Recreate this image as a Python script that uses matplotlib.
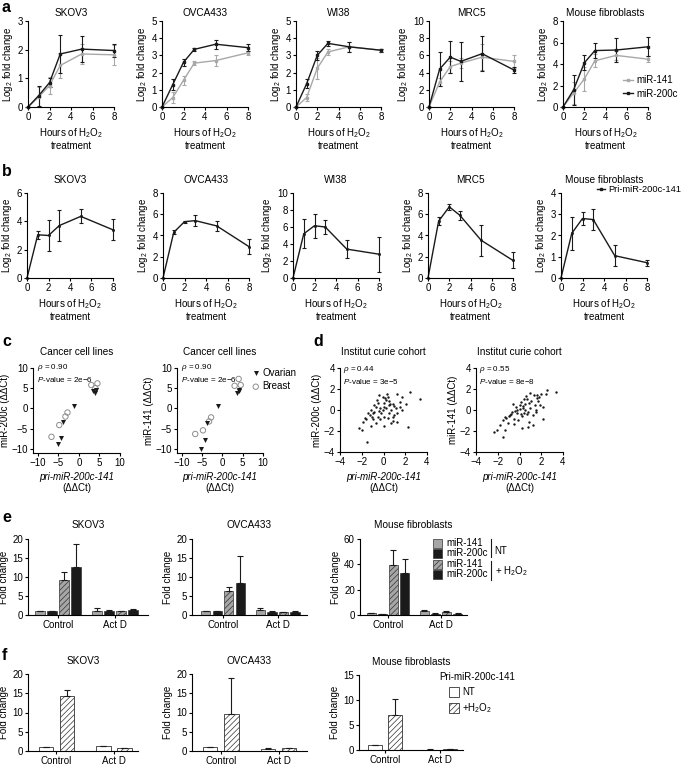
import matplotlib
matplotlib.use('Agg')
import matplotlib.pyplot as plt
from matplotlib.patches import Rectangle
from matplotlib.lines import Line2D

plt.rcParams['font.family'] = ['Liberation Sans', 'DejaVu Sans']
plt.rcParams['font.size'] = 7
plt.rcParams['mathtext.fontset'] = 'custom'
plt.rcParams['mathtext.rm'] = 'Liberation Sans'
plt.rcParams['mathtext.it'] = 'Liberation Sans:italic'
plt.rcParams['mathtext.bf'] = 'Liberation Sans:bold'
plt.rcParams['hatch.linewidth'] = 0.5
plt.rcParams['axes.linewidth'] = 0.8

# ---------------- data ----------------
hours = [0, 1, 2, 3, 5, 8]
cell_titles = ['SKOV3', 'OVCA433', 'WI38', 'MRC5', 'Mouse fibroblasts']

# panel a: mature miRNAs (log2 fold change), rows = cell lines
a_mir141 = [[0, 0.35, 0.75, 1.45, 1.85, 1.82],
            [0, 0.55, 1.55, 2.55, 2.70, 3.15],
            [0, 0.55, 2.25, 3.20, 3.50, 3.30],
            [0, 2.90, 4.70, 5.10, 5.80, 5.30],
            [0, 1.30, 2.60, 4.30, 4.80, 4.45]]
a_mir141_err = [[0, 0.35, 0.30, 0.45, 0.35, 0.35],
                [0, 0.30, 0.25, 0.10, 0.30, 0.10],
                [0, 0.20, 0.60, 0.20, 0.30, 0.10],
                [0, 0.50, 0.70, 0.60, 1.50, 0.80],
                [0, 1.00, 1.10, 0.60, 0.40, 0.30]]
a_mir200c = [[0, 0.40, 0.85, 1.85, 2.02, 1.97],
             [0, 1.30, 2.60, 3.35, 3.65, 3.45],
             [0, 1.35, 3.00, 3.70, 3.50, 3.30],
             [0, 4.40, 5.80, 5.30, 6.20, 4.30],
             [0, 1.60, 4.10, 5.25, 5.30, 5.60]]
a_mir200c_err = [[0, 0.35, 0.15, 0.65, 0.45, 0.22],
                 [0, 0.30, 0.20, 0.10, 0.25, 0.20],
                 [0, 0.25, 0.25, 0.15, 0.30, 0.10],
                 [0, 2.00, 1.90, 2.30, 2.00, 0.35],
                 [0, 1.40, 0.70, 0.70, 1.10, 0.90]]
a_ymax = [3, 5, 5, 10, 8]
a_ystep = [1, 1, 1, 2, 2]

# panel b: pri-miR-200c-141
b_pri = [[0, 3.05, 3.00, 3.70, 4.35, 3.40],
         [0, 4.30, 5.30, 5.40, 4.90, 2.95],
         [0, 5.20, 6.15, 6.00, 3.40, 2.80],
         [0, 5.35, 6.70, 5.90, 3.55, 1.65],
         [0, 2.10, 2.80, 2.75, 1.05, 0.72]]
b_pri_err = [[0, 0.30, 1.10, 1.10, 0.50, 0.75],
             [0, 0.20, 0.10, 0.50, 0.50, 0.70],
             [0, 1.70, 1.40, 0.85, 1.05, 2.05],
             [0, 0.40, 0.30, 0.45, 1.45, 0.75],
             [0, 0.78, 0.30, 0.50, 0.50, 0.15]]
b_ymax = [6, 8, 10, 8, 4]
b_ystep = [2, 2, 2, 2, 1]

# panel c: cancer cell lines
c_ov_pri = [3.5, 4.0, 4.2, -1.2, -3.8, -4.3, -5.2]
c_ov_200c = [4.2, 3.8, 4.5, 0.5, -3.4, -7.3, -8.8]
c_ov_141 = [3.9, 4.6, 4.2, 0.5, -3.7, -7.8, -10.0]
c_br_pri = [3.0, 4.5, 4.0, -2.8, -3.3, -4.8, -6.7]
c_br_200c = [5.8, 6.2, 5.0, -1.0, -2.0, -4.1, -7.0]
c_br_141 = [5.6, 5.8, 7.3, -2.2, -3.2, -5.4, -6.3]

# panel d: Institut Curie cohort
d1_x = [3.38, 2.48, 2.03, 1.67, 1.52, 1.13, 0.98, 0.68, 0.53, 0.38, 0.32, 0.23, 0.08, 0.02,
        -0.08, -0.23, -0.29, -0.47, -0.59, -0.68, -0.83, -0.98, -1.07, -1.19, -1.28, -1.43,
        -1.58, -1.73, -1.88, -2.27, -1.94, -1.49, -1.13, -0.68, 0.08, 0.68, 0.83, 1.28, 2.27,
        -0.29, 0.38, -0.53, 0.08, 0.53, 1.28, 1.73, -0.08, -0.38, -0.83, 0.83, 0.2, 0.5, 1.0,
        -0.4, 1.5, 0.9, -1.0, 0.1, 0.6, 1.2]
d1_y = [1.02, 1.75, 0.57, 1.21, 0.79, 0.16, -0.48, 0.0, 0.48, 1.27, 1.52, 0.95, 0.32, 0.63,
        0.0, -0.32, 0.16, 0.63, 0.95, 0.32, -0.16, -0.32, -0.63, 0.0, -0.48, -0.25,
        -0.89, -0.79, -1.11, -1.68, -1.9, -3.08, -1.52, -1.27, -1.49, -1.27, -1.05, -1.11, -1.65,
        -0.89, -0.79, -0.63, -0.63, -0.32, -0.32, 0.0, 1.27, 1.43, 0.48, 0.57, 0.2, 0.9, 0.4,
        -0.1, 0.3, -0.7, -0.9, 1.1, 0.6, 1.5]
d2_x = [3.35, 2.45, -2.36, -2.06, -1.55, -1.31, -1.76, 2.2, 1.25, 0.8, 0.2, -1.2, -0.9, -0.5,
        -0.2, 0.0, 0.3, 0.5, 0.7, 1.0, 1.4, 1.6, 1.8, 2.0, 0.1, -0.3, -0.7, -1.0, 0.4, 0.9,
        1.2, 1.5, -0.1, 0.6, 1.1, -0.6, -1.5, -1.1, 0.2, 0.8, 1.9, 2.5, 1.3, 0.0, -0.4,
        0.5, 1.7, -0.8, 0.3, 0.9, -1.3, 0.7, 1.5, 2.2, -0.2, 0.1, 1.0, 1.6, 0.4, -0.5]
d2_y = [1.75, 1.52, -2.06, -1.9, -2.54, -1.94, -1.4, -0.89, -1.43, -1.59, -1.75, -0.8, -0.5, -0.9,
        -0.3, 0.1, 0.4, 0.0, -0.4, 0.2, 0.5, 1.4, 1.2, 1.5, 0.8, 0.3, -0.2, -0.6, 1.0, 0.7,
        -0.5, 0.0, -1.0, 1.3, 0.9, 0.6, -1.0, -1.2, -0.6, -0.2, 0.5, 1.9, 1.4, 0.5, -0.1,
        0.6, 0.9, -0.4, 0.2, -1.1, -0.7, 1.0, -0.2, 0.3, 0.0, -0.4, 1.6, 1.1, -0.3, -1.3]

# panel e: bar values (Control group, then Act D group)
e_titles = ['SKOV3', 'OVCA433', 'Mouse fibroblasts']
e_labels = ['miR-141', 'miR-200c', 'miR-141', 'miR-200c']
e_ctrl = [[1.0, 1.0, 9.3, 12.6], [1.0, 1.0, 6.2, 8.4], [1.2, 0.9, 39.5, 33.5]]
e_ctrl_err = [[0.05, 0.05, 2.0, 6.1], [0.05, 0.05, 1.2, 7.1], [0.2, 0.1, 11.5, 11.0]]
e_actd = [[1.1, 1.1, 1.0, 1.3], [1.3, 0.9, 0.7, 0.9], [3.0, 1.0, 2.2, 1.0]]
e_actd_err = [[0.7, 0.2, 0.1, 0.2], [0.5, 0.1, 0.1, 0.1], [0.8, 0.2, 0.7, 0.2]]
e_ymax = [20, 20, 60]
e_ystep = [5, 5, 20]

# panel f: pri-miR-200c-141 bars (NT, +H2O2)
f_ctrl = [[1.0, 14.3], [1.0, 9.6], [1.0, 7.0]]
f_ctrl_err = [[0.05, 1.5], [0.05, 9.3], [0.05, 3.3]]
f_actd = [[1.3, 0.7], [0.6, 0.8], [0.1, 0.25]]
f_actd_err = [[0.1, 0.1], [0.1, 0.05], [0.03, 0.05]]
f_ymax = [20, 20, 15]
f_ystep = [5, 5, 5]
group_labels = ['Control', 'Act D']

# ---------------- layout helpers ----------------
W, H = 685, 766
fig = plt.figure(figsize=(W / 100, H / 100), dpi=100)
FS = 7
TFS = 7.2


def add_ax(l, t, r, b):
    return fig.add_axes([l / W, 1 - b / H, (r - l) / W, (b - t) / H])


def style(ax):
    for s in ['top', 'right']:
        ax.spines[s].set_visible(False)
    ax.tick_params(direction='out', length=2.5, width=0.8, pad=1.2, labelsize=FS)


def ftext(x, y, s, **kw):
    fig.text(x / W, 1 - y / H, s, **kw)


GREY = '#a8a8a8'
BLACK = '#1a1a1a'
HOURS_LABEL = 'Hours of H$_2$O$_2$\ntreatment'

# panel letters
for letter, (x, y) in zip('abcdef', [(2, 7), (2, 172), (2, 342), (313, 342), (2, 517), (2, 656)]):
    ftext(x, y, letter, fontsize=11.5, fontweight='bold', va='center', ha='left')

# ---------------- row a ----------------
a_px = [(28, 114), (162, 248), (296, 381), (429, 514), (563, 648)]
for i, (l, r) in enumerate(a_px):
    ax = add_ax(l, 21, r, 107)
    style(ax)
    ax.errorbar(hours, a_mir141[i], yerr=a_mir141_err[i], color=GREY, lw=1, marker='s', ms=2,
                capsize=1.5, elinewidth=0.8, capthick=0.8, clip_on=False)
    ax.errorbar(hours, a_mir200c[i], yerr=a_mir200c_err[i], color=BLACK, lw=1, marker='s', ms=2,
                capsize=1.5, elinewidth=0.8, capthick=0.8, clip_on=False)
    ax.set_xlim(0, 8)
    ax.set_ylim(0, a_ymax[i])
    ax.set_xticks([0, 2, 4, 6, 8])
    ax.set_yticks(range(0, a_ymax[i] + 1, a_ystep[i]))
    ax.set_title(cell_titles[i], fontsize=TFS, pad=3.5)
    ax.set_xlabel(HOURS_LABEL, fontsize=FS, labelpad=3, linespacing=1.1)
    ax.set_ylabel('Log$_2$ fold change', fontsize=FS, labelpad=2)
    if i == 4:
        hl = [Line2D([], [], color=GREY, lw=1, marker='s', ms=2),
              Line2D([], [], color=BLACK, lw=1, marker='s', ms=2)]
        ax.legend(handles=hl, labels=['miR-141', 'miR-200c'], loc='center left',
                  bbox_to_anchor=(618 / W, 1 - 87 / H),
                  bbox_transform=fig.transFigure, frameon=False, fontsize=FS,
                  handlelength=1.0, handletextpad=0.4, labelspacing=0.35, borderpad=0)

# ---------------- row b ----------------
b_px = [(27, 113), (163, 249), (293, 379), (428, 513), (561, 647)]
for i, (l, r) in enumerate(b_px):
    ax = add_ax(l, 193, r, 278)
    style(ax)
    ax.errorbar(hours, b_pri[i], yerr=b_pri_err[i], color=BLACK, lw=1, marker='s', ms=1,
                capsize=1.5, elinewidth=0.8, capthick=0.8, clip_on=False)
    ax.set_xlim(0, 8)
    ax.set_ylim(0, b_ymax[i])
    ax.set_xticks([0, 2, 4, 6, 8])
    ax.set_yticks(range(0, b_ymax[i] + 1, b_ystep[i]))
    ax.set_title(cell_titles[i], fontsize=TFS, pad=7.5)
    ax.set_xlabel(HOURS_LABEL, fontsize=FS, labelpad=3, linespacing=1.1)
    ax.set_ylabel('Log$_2$ fold change', fontsize=FS, labelpad=2)
    if i == 4:
        hl = [Line2D([], [], color=BLACK, lw=1, marker='s', ms=1.5)]
        ax.legend(handles=hl, labels=['Pri-miR-200c-141'], loc='center left',
                  bbox_to_anchor=(592 / W, 1 - 190 / H),
                  bbox_transform=fig.transFigure, frameon=False, fontsize=6.7,
                  handlelength=0.9, handletextpad=0.3, borderpad=0)

# ---------------- row c ----------------
c_px = [(33, 120), (177, 263)]
c_ylabels = ['miR-200c (ΔΔCt)', 'miR-141 (ΔΔCt)']
c_yvals_ov = [c_ov_200c, c_ov_141]
c_yvals_br = [c_br_200c, c_br_141]
for i, (l, r) in enumerate(c_px):
    ax = add_ax(l, 368, r, 453)
    style(ax)
    hb = ax.scatter(c_br_pri, c_yvals_br[i], s=15, facecolors='none', edgecolors='#8c8c8c',
                    linewidths=0.7, clip_on=False, label='Breast')
    ho = ax.scatter(c_ov_pri, c_yvals_ov[i], s=13, marker='v', color=BLACK, linewidths=0,
                    clip_on=False, label='Ovarian')
    ax.set_xlim(-11.2, 10)
    ax.set_ylim(-11, 10)
    ax.set_xticks([-10, -5, 0, 5, 10])
    ax.set_yticks([-10, -5, 0, 5, 10])
    ax.set_title('Cancer cell lines', fontsize=TFS, pad=9)
    ax.set_ylabel(c_ylabels[i], fontsize=FS, labelpad=1)
    ax.text(0.5, -0.28, 'pri-miR-200c-141', style='italic', fontsize=FS, ha='center', va='center',
            transform=ax.transAxes)
    ax.text(0.5, -0.41, '(ΔΔCt)', fontsize=FS, ha='center', va='center', transform=ax.transAxes)
    ax.text(0.05, 1.0, r'$\rho$ = 0.90', fontsize=5.8, ha='left', va='center', transform=ax.transAxes)
    ax.text(0.05, 0.86, r'$P$-value = 2e−6', fontsize=5.8, ha='left', va='center', transform=ax.transAxes)
    if i == 1:
        ax.legend(handles=[ho, hb], loc='upper left', bbox_to_anchor=(247 / W, 1 - 363 / H),
                  bbox_transform=fig.transFigure, frameon=False, fontsize=FS,
                  handlelength=0.8, handletextpad=0.3, labelspacing=0.35, borderpad=0)

# ---------------- row d ----------------
d_px = [(340, 427), (476, 563)]
d_ylabels = ['miR-200c (ΔΔCt)', 'miR-141 (ΔΔCt)']
d_xs = [d1_x, d2_x]
d_ys = [d1_y, d2_y]
d_stats = [(r'$\rho$ = 0.44', r'$P$-value = 3e−5'), (r'$\rho$ = 0.55', r'$P$-value = 8e−8')]
for i, (l, r) in enumerate(d_px):
    ax = add_ax(l, 368, r, 452)
    style(ax)
    ax.scatter(d_xs[i], d_ys[i], s=3, color=BLACK, linewidths=0)
    ax.set_xlim(-4, 4)
    ax.set_ylim(-4, 4)
    ax.set_xticks([-4, -2, 0, 2, 4])
    ax.set_yticks([-4, -2, 0, 2, 4])
    ax.set_title('Institut curie cohort', fontsize=TFS, pad=9)
    ax.set_ylabel(d_ylabels[i], fontsize=FS, labelpad=1)
    ax.text(0.5, -0.30, 'pri-miR-200c-141', style='italic', fontsize=FS, ha='center', va='center',
            transform=ax.transAxes)
    ax.text(0.5, -0.43, '(ΔΔCt)', fontsize=FS, ha='center', va='center', transform=ax.transAxes)
    ax.text(0.04, 0.98, d_stats[i][0], fontsize=5.8, ha='left', va='center', transform=ax.transAxes)
    ax.text(0.04, 0.84, d_stats[i][1], fontsize=5.8, ha='left', va='center', transform=ax.transAxes)

# ---------------- row e ----------------
e_pos_ctrl = [0, 1, 2, 3]
e_pos_actd = [4.75, 5.75, 6.75, 7.75]
e_face = ['#a6a6a6', BLACK, '#a6a6a6', BLACK]
e_hatch = [None, None, '//////', None]
e_px = [(28, 148), (192, 307), (360, 467)]
e_xlim = [(-1.0, 9.0), (-1.2, 8.8), (-1.0, 8.6)]
for i, (l, r) in enumerate(e_px):
    ax = add_ax(l, 539, r, 615)
    style(ax)
    for j in range(4):
        ax.bar([e_pos_ctrl[j], e_pos_actd[j]], [e_ctrl[i][j], e_actd[i][j]], width=0.8,
               color=e_face[j], edgecolor='#333333', linewidth=0.5, hatch=e_hatch[j])
        ax.errorbar([e_pos_ctrl[j], e_pos_actd[j]], [e_ctrl[i][j], e_actd[i][j]],
                    yerr=[[0, 0], [e_ctrl_err[i][j], e_actd_err[i][j]]], fmt='none',
                    ecolor=BLACK, elinewidth=0.8, capsize=2, capthick=0.8)
    ax.set_xlim(*e_xlim[i])
    ax.set_ylim(0, e_ymax[i])
    ax.set_yticks(range(0, e_ymax[i] + 1, e_ystep[i]))
    ax.set_xticks([1.5, 6.25])
    ax.set_xticklabels(group_labels)
    ax.set_title(e_titles[i], fontsize=TFS, pad=8)
    ax.set_ylabel('Fold change', fontsize=FS, labelpad=2)

# legend for e (drawn in figure space)
leg_rows_y = [543, 553, 564, 574]
for k, y in enumerate(leg_rows_y):
    fig.patches.append(Rectangle((433 / W, 1 - (y + 4.5) / H), 9 / W, 9 / H, transform=fig.transFigure,
                                 facecolor=e_face[k], edgecolor='#333333', linewidth=0.5,
                                 hatch=e_hatch[k]))
    ftext(446, y, e_labels[k], fontsize=FS, va='center', ha='left')
fig.lines.append(Line2D([491 / W, 491 / W], [1 - 539 / H, 1 - 557 / H], transform=fig.transFigure,
                        color=BLACK, lw=0.8))
fig.lines.append(Line2D([491 / W, 491 / W], [1 - 561 / H, 1 - 580 / H], transform=fig.transFigure,
                        color=BLACK, lw=0.8))
ftext(494, 551, 'NT', fontsize=FS, va='center', ha='left')
ftext(495, 571, '+ H$_2$O$_2$', fontsize=FS, va='center', ha='left')

# ---------------- row f ----------------
f_pos_ctrl = [0, 1]
f_pos_actd = [2.75, 3.75]
f_face = ['white', 'white']
f_hatch = [None, '//////']
f_px = [(28, 138), (192, 307), (359, 463)]
f_top = [674, 674, 675]
f_bot = [751, 751, 750]
f_xlim = [(-0.86, 4.4), (-0.86, 4.6), (-0.8, 4.4)]
for i, (l, r) in enumerate(f_px):
    ax = add_ax(l, f_top[i], r, f_bot[i])
    style(ax)
    ax.tick_params(axis='x', pad=0.8)
    for j in range(2):
        ax.bar([f_pos_ctrl[j], f_pos_actd[j]], [f_ctrl[i][j], f_actd[i][j]], width=0.7,
               color=f_face[j], edgecolor='#333333', linewidth=0.6, hatch=f_hatch[j])
        ax.errorbar([f_pos_ctrl[j], f_pos_actd[j]], [f_ctrl[i][j], f_actd[i][j]],
                    yerr=[[0, 0], [f_ctrl_err[i][j], f_actd_err[i][j]]], fmt='none',
                    ecolor=BLACK, elinewidth=0.8, capsize=2, capthick=0.8)
    ax.set_xlim(*f_xlim[i])
    ax.set_ylim(0, f_ymax[i])
    ax.set_yticks(range(0, f_ymax[i] + 1, f_ystep[i]))
    ax.set_xticks([0.5, 3.25])
    ax.set_xticklabels(group_labels)
    ax.set_title(e_titles[i], fontsize=TFS, pad=7)
    ax.set_ylabel('Fold change', fontsize=FS, labelpad=2)

ftext(439, 677, 'Pri-miR-200c-141', fontsize=FS, va='center', ha='left')
for k, (y, lab) in enumerate([(692, 'NT'), (708, '+H$_2$O$_2$')]):
    fig.patches.append(Rectangle((449 / W, 1 - (y + 5) / H), 10 / W, 10 / H, transform=fig.transFigure,
                                 facecolor=f_face[k], edgecolor='#333333', linewidth=0.6,
                                 hatch=f_hatch[k]))
    ftext(462, y, lab, fontsize=FS, va='center', ha='left')

fig.savefig('out.png', dpi=100)
